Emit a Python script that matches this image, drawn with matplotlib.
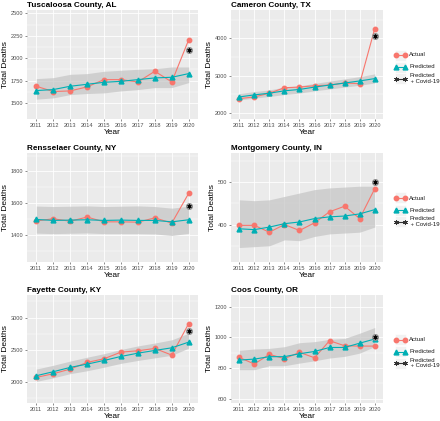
import numpy as np
import matplotlib.pyplot as plt
from matplotlib.lines import Line2D
from matplotlib.patches import Rectangle
from matplotlib.ticker import FixedLocator

plt.rcParams['font.family'] = ['Liberation Sans', 'DejaVu Sans']

years = np.arange(2011, 2021)

# Tuscaloosa County, AL
tus_actual = [1687, 1628, 1635, 1680, 1761, 1761, 1735, 1854, 1735, 2205]
tus_pred = [1639, 1650, 1687, 1709, 1731, 1742, 1761, 1780, 1787, 1828]
tus_lower = [1543, 1557, 1594, 1606, 1613, 1635, 1650, 1672, 1672, 1728]
tus_upper = [1772, 1783, 1820, 1828, 1854, 1865, 1876, 1883, 1902, 1902]
tus_covid = 2087

# Cameron County, TX
cam_actual = [2382, 2427, 2527, 2673, 2691, 2727, 2745, 2800, 2782, 4255]
cam_pred = [2427, 2482, 2527, 2591, 2627, 2691, 2745, 2800, 2855, 2918]
cam_lower = [2345, 2395, 2440, 2490, 2530, 2590, 2640, 2690, 2740, 2800]
cam_upper = [2518, 2570, 2615, 2690, 2725, 2790, 2850, 2910, 2970, 3045]
cam_covid = 4064

# Rensselaer County, NY
ren_actual = [1490, 1503, 1488, 1514, 1484, 1484, 1482, 1509, 1476, 1663]
ren_pred = [1499, 1493, 1495, 1497, 1493, 1495, 1493, 1493, 1484, 1497]
ren_lower = [1413, 1410, 1412, 1414, 1410, 1410, 1410, 1408, 1398, 1412]
ren_upper = [1583, 1580, 1582, 1584, 1580, 1582, 1584, 1580, 1570, 1582]
ren_covid = 1583

# Montgomery County, IN
mon_actual = [398, 398, 382, 400, 386, 404, 430, 443, 414, 484]
mon_pred = [390, 388, 394, 402, 406, 414, 418, 420, 425, 435]
mon_lower = [346, 348, 350, 364, 362, 372, 378, 380, 382, 394]
mon_upper = [458, 456, 458, 466, 474, 482, 486, 488, 490, 490]
mon_covid = 500

# Fayette County, KY
fay_actual = [2072, 2129, 2201, 2304, 2361, 2464, 2485, 2521, 2418, 2907]
fay_pred = [2098, 2160, 2227, 2278, 2335, 2397, 2448, 2490, 2531, 2619]
fay_lower = [2010, 2065, 2130, 2175, 2230, 2290, 2335, 2375, 2415, 2526]
fay_upper = [2201, 2260, 2325, 2385, 2440, 2505, 2560, 2605, 2655, 2758]
fay_covid = 2784

# Coos County, OR
coo_actual = [869, 826, 889, 861, 902, 867, 978, 945, 943, 943]
coo_pred = [852, 858, 874, 874, 893, 908, 934, 934, 962, 989]
coo_lower = [789, 789, 815, 815, 832, 847, 865, 876, 897, 940]
coo_upper = [915, 924, 928, 939, 965, 972, 987, 993, 1027, 1064]
coo_covid = 1000

legend_labels = ['Actual', 'Predicted', 'Predicted\n + Covid-19']

RED = '#F8766D'
TEAL = '#00AFB4'
PANEL = '#EBEBEB'
BAND = '#C4C4C4'
W, H = 440, 421


def draw_panel(ax, title, actual, pred, lower, upper, covid, ylim, major, minor):
    ax.set_facecolor(PANEL)
    ax.fill_between(years, lower, upper, color=BAND, alpha=0.7, lw=0, zorder=1)
    ax.plot(years, actual, color=RED, lw=0.8, marker='o', ms=3.2, zorder=3)
    ax.plot(years, pred, color=TEAL, lw=0.8, marker='^', ms=3.5, zorder=4)
    ax.plot([2020], [covid], 'o', color='#8C8C8C', ms=4, zorder=5)
    ax.plot([2020], [covid], marker=(6, 2, 0), color='black', ms=3, mew=0.5, zorder=6)
    ax.set_xlim(2010.45, 2020.55)
    ax.set_ylim(*ylim)
    ax.set_xticks(years)
    ax.yaxis.set_major_locator(FixedLocator(major))
    ax.yaxis.set_minor_locator(FixedLocator(minor))
    ax.grid(which='major', color='white', lw=0.6)
    ax.grid(which='minor', axis='y', color='white', lw=0.3)
    ax.set_axisbelow(True)
    for s in ax.spines.values():
        s.set_visible(False)
    ax.tick_params(axis='both', which='major', labelsize=4.1, color='#333333',
                   labelcolor='#4D4D4D', length=1.6, width=0.4, pad=1.2)
    ax.tick_params(axis='y', which='minor', length=0)
    ax.set_title(title, loc='left', fontsize=5.9, fontweight='bold', pad=2.5)
    ax.set_xlabel('Year', fontsize=6, labelpad=0.8)
    ax.set_ylabel('Total Deaths', fontsize=6, labelpad=1.3)


def draw_legend(top, bot):
    # ggplot-style legend with grey key boxes, drawn in figure pixels
    mid = (top + bot) / 2
    offsets = [-9.5, 2.5, 14]
    styles = [dict(color=RED, marker='o', ms=3.2),
              dict(color=TEAL, marker='^', ms=3.5),
              dict(color='#333333', marker=(6, 2, 0), ms=3.5, mew=0.6)]
    for off, lab, st in zip(offsets, legend_labels, styles):
        yc = mid + off
        fig.add_artist(Rectangle((395 / W, 1 - (yc + 5.5) / H), 11 / W, 11 / H,
                                 transform=fig.transFigure, facecolor='#F2F2F2',
                                 edgecolor='white', lw=0.5))
        fig.add_artist(Line2D([396 / W, 405 / W], [1 - yc / H] * 2,
                              transform=fig.transFigure, lw=0.8, **st))
        fig.text(409 / W, 1 - yc / H, lab, fontsize=4.3, va='center', ha='left',
                 color='#1A1A1A', linespacing=1.05)


fig = plt.figure(figsize=(4.4, 4.21), dpi=100)
rows = [(10, 119), (153, 262), (295, 403)]
cols = [(27, 198), (231, 383)]

panels = [
    ('Tuscaloosa County, AL', tus_actual, tus_pred, tus_lower, tus_upper, tus_covid,
     (1322, 2537), [1500, 1750, 2000, 2250, 2500], [1625, 1875, 2125, 2375]),
    ('Cameron County, TX', cam_actual, cam_pred, cam_lower, cam_upper, cam_covid,
     (1836, 4755), [2000, 3000, 4000], [2500, 3500, 4500]),
    ('Rensselaer County, NY', ren_actual, ren_pred, ren_lower, ren_upper, ren_covid,
     (1232, 1916), [1400, 1600, 1800], [1300, 1500, 1700, 1900]),
    ('Montgomery County, IN', mon_actual, mon_pred, mon_lower, mon_upper, mon_covid,
     (312, 568), [400, 500], [350, 450, 550]),
    ('Fayette County, KY', fay_actual, fay_pred, fay_lower, fay_upper, fay_covid,
     (1675, 3350), [2000, 2500, 3000], [1750, 2250, 2750, 3250]),
    ('Coos County, OR', coo_actual, coo_pred, coo_lower, coo_upper, coo_covid,
     (572, 1276), [600, 800, 1000, 1200], [700, 900, 1100]),
]

for i, p in enumerate(panels):
    r, c = divmod(i, 2)
    top, bot = rows[r]
    left, right = cols[c]
    ax = fig.add_axes([left / W, 1 - bot / H, (right - left) / W, (bot - top) / H])
    draw_panel(ax, *p)
    if c == 1:
        draw_legend(top, bot)

fig.savefig('out.png', dpi=100)
